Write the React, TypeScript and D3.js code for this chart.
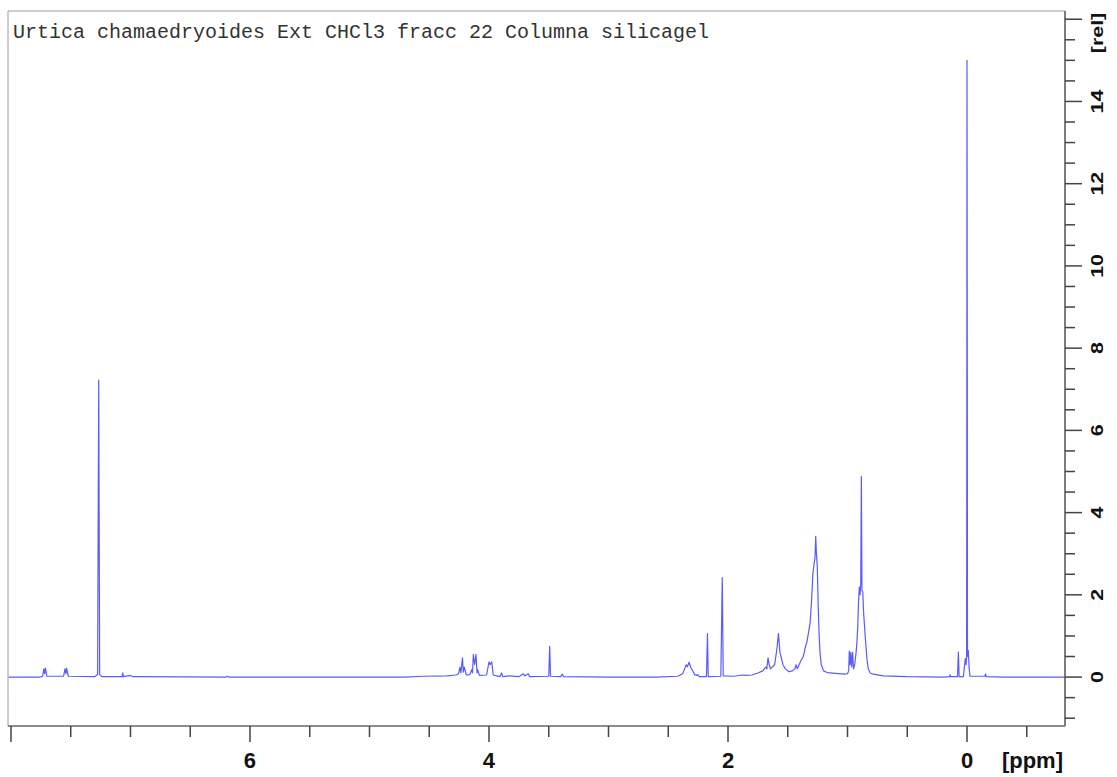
import React from 'react';
import * as d3 from 'd3';

// 1H NMR trace as [ppm, rel] points (descending ppm)
const aromaticTrace: [number, number][] = [
  [8.02, 0], [7.76, 0], [7.735, 0.02], [7.725, 0.2], [7.718, 0.08], [7.712, 0.22], [7.7, 0.02],
  [7.56, 0.02], [7.548, 0.2], [7.54, 0.08], [7.535, 0.21], [7.52, 0.02],
  [7.3, 0.01], [7.275, 0.06], [7.266, 7.22], [7.258, 0.06], [7.24, 0.01],
  [7.07, 0.01], [7.065, 0.1], [7.06, 0.01], [7.0, 0.04], [6.98, 0.01],
  [6.2, 0], [6.19, 0.02], [6.18, 0],
];

const oxygenatedTrace: [number, number][] = [
  [4.7, 0], [4.55, 0.02], [4.35, 0.03], [4.28, 0.05], [4.255, 0.08], [4.243, 0.24], [4.235, 0.1],
  [4.222, 0.47], [4.215, 0.12], [4.207, 0.24], [4.19, 0.05], [4.16, 0.06], [4.145, 0.18],
  [4.138, 0.1], [4.131, 0.55], [4.12, 0.3], [4.109, 0.55], [4.1, 0.1], [4.095, 0.18], [4.08, 0.04],
  [4.02, 0.05], [4.0, 0.37], [3.99, 0.3], [3.977, 0.37], [3.965, 0.05], [3.91, 0.01], [3.895, 0.1],
  [3.885, 0.01], [3.83, 0.03], [3.75, 0.01], [3.713, 0.08], [3.7, 0.03], [3.671, 0.08], [3.66, 0.01],
  [3.5, 0.02], [3.492, 0.75], [3.485, 0.02], [3.4, 0.01], [3.387, 0.07], [3.375, 0.01], [3.0, 0],
];

const allylicTrace: [number, number][] = [
  [2.6, 0], [2.42, 0.02], [2.38, 0.08], [2.36, 0.22], [2.35, 0.3], [2.34, 0.25], [2.326, 0.36],
  [2.31, 0.22], [2.3, 0.18], [2.28, 0.06], [2.26, 0.04], [2.255, 0.06], [2.24, 0.01],
  [2.18, 0.01], [2.172, 1.06], [2.165, 0.01], [2.06, 0.02], [2.048, 2.42], [2.04, 0.03],
  [1.95, 0.02], [1.88, 0.05], [1.85, 0.04], [1.8, 0.05], [1.75, 0.1], [1.71, 0.15], [1.685, 0.24],
  [1.675, 0.2], [1.665, 0.47], [1.655, 0.3], [1.645, 0.2], [1.61, 0.3], [1.59, 0.7], [1.578, 1.06],
  [1.565, 0.6], [1.54, 0.3], [1.52, 0.2], [1.49, 0.13], [1.46, 0.15], [1.44, 0.2], [1.431, 0.3],
  [1.42, 0.2], [1.405, 0.3], [1.39, 0.4], [1.37, 0.5], [1.355, 0.7], [1.34, 0.85], [1.325, 1.1],
  [1.312, 1.35], [1.3, 1.9], [1.29, 2.5], [1.28, 2.75], [1.272, 2.9], [1.266, 3.42], [1.26, 3.0],
  [1.253, 2.7], [1.245, 1.7], [1.237, 1.0], [1.23, 0.6], [1.22, 0.3], [1.2, 0.15], [1.17, 0.11],
  [1.1, 0.09], [1.02, 0.07],
];

const methylTrace: [number, number][] = [
  [1.0, 0.08], [0.99, 0.15], [0.985, 0.63], [0.978, 0.3], [0.972, 0.6], [0.965, 0.25], [0.957, 0.6],
  [0.95, 0.2], [0.94, 0.3], [0.93, 0.55], [0.922, 0.8], [0.915, 1.18], [0.908, 1.8], [0.901, 2.19],
  [0.895, 2.0], [0.889, 2.3], [0.884, 4.88], [0.879, 2.1], [0.872, 2.07], [0.866, 1.6],
  [0.859, 1.3], [0.852, 1.0], [0.845, 0.73], [0.836, 0.4], [0.826, 0.2], [0.81, 0.1],
  [0.784, 0.07], [0.7, 0.03], [0.5, 0.01],
];

const referenceTrace: [number, number][] = [
  [0.2, 0], [0.145, 0.01], [0.142, 0.06], [0.138, 0.01], [0.08, 0.01], [0.072, 0.61], [0.066, 0.01],
  [0.03, 0.01], [0.02, 0.3], [0.014, 0.45], [0.008, 0.3], [0.003, 0.5], [0.0, 15.0], [-0.004, 0.5],
  [-0.011, 0.65], [-0.018, 0.2], [-0.025, 0.02], [-0.15, 0.02], [-0.155, 0.08], [-0.16, 0.01],
  [-0.3, 0], [-0.82, 0],
];

const xLabels = [6, 4, 2, 0];
const yLabels = [0, 2, 4, 6, 8, 10, 12, 14];
const title = 'Urtica chamaedryoides Ext CHCl3 fracc 22 Columna silicagel';

const W = 1117;
const H = 777;
const left = 8;
const right = 1065;
const top = 11;
const bottom = 726;

export default function App() {
  const x = d3.scaleLinear().domain([8.025, -0.82]).range([left, right]);
  const y = d3.scaleLinear().domain([16.2, -1.19]).range([top, bottom]);

  const trace = [...aromaticTrace, ...oxygenatedTrace, ...allylicTrace, ...methylTrace, ...referenceTrace];
  const line = d3
    .line<[number, number]>()
    .x(d => x(d[0]))
    .y(d => y(d[1]));

  const xTicks = d3.range(-0.5, 8.01, 0.5);
  const yTicks = d3.range(-1, 16.01, 0.5);
  const isMajor = (v: number) => Math.abs(v % 2) < 1e-6;

  return (
    <svg width={W} height={H} style={{ position: 'absolute', left: 0, top: 0, background: '#fff' }}>
      {/* frame */}
      <line x1={left} x2={right} y1={top} y2={top} stroke="#9a9a9a" strokeWidth={1} />
      <line x1={left} x2={left} y1={top} y2={bottom} stroke="#9a9a9a" strokeWidth={1} />

      <text x={13} y={38} fontFamily="'Liberation Mono', 'Courier New', monospace" fontSize={20} fill="#333">
        {title}
      </text>

      <path d={line(trace) ?? ''} fill="none" stroke="#5a5aff" strokeWidth={1.2} strokeLinejoin="round" />

      {/* bottom axis */}
      <line x1={left} x2={right} y1={bottom} y2={bottom} stroke="#666" strokeWidth={1.7} />
      {xTicks.map(t => (
        <line
          key={'xt' + t}
          x1={x(t)}
          x2={x(t)}
          y1={bottom}
          y2={bottom + (isMajor(t) ? 16 : 11)}
          stroke="#444"
          strokeWidth={1.5}
        />
      ))}
      {xLabels.map(t => (
        <text
          key={'xl' + t}
          x={x(t)}
          y={768}
          textAnchor="middle"
          fontFamily="'Liberation Sans', Arial, sans-serif"
          fontWeight="bold"
          fontSize={22}
          fill="#111"
        >
          {t}
        </text>
      ))}
      <text
        x={1063}
        y={768}
        textAnchor="end"
        fontFamily="'Liberation Sans', Arial, sans-serif"
        fontWeight="bold"
        fontSize={22}
        fill="#111"
      >
        [ppm]
      </text>

      {/* right axis */}
      <line x1={right} x2={right} y1={top} y2={bottom} stroke="#666" strokeWidth={1.7} />
      {yTicks.map(t => (
        <line
          key={'yt' + t}
          x1={right}
          x2={right + (isMajor(t) ? 17 : 10)}
          y1={y(t)}
          y2={y(t)}
          stroke="#444"
          strokeWidth={1.5}
        />
      ))}
      {yLabels.map(t => (
        <text
          key={'yl' + t}
          transform={`translate(1103,${y(t)}) rotate(-90) scale(1.3,1)`}
          textAnchor="middle"
          fontFamily="'Liberation Sans', Arial, sans-serif"
          fontWeight="bold"
          fontSize={16.5}
          fill="#111"
        >
          {t}
        </text>
      ))}
      <text
        transform={`translate(1103,33) rotate(-90) scale(1.3,1)`}
        textAnchor="middle"
        fontFamily="'Liberation Sans', Arial, sans-serif"
        fontWeight="bold"
        fontSize={16.5}
        fill="#111"
      >
        [rel]
      </text>
    </svg>
  );
}
